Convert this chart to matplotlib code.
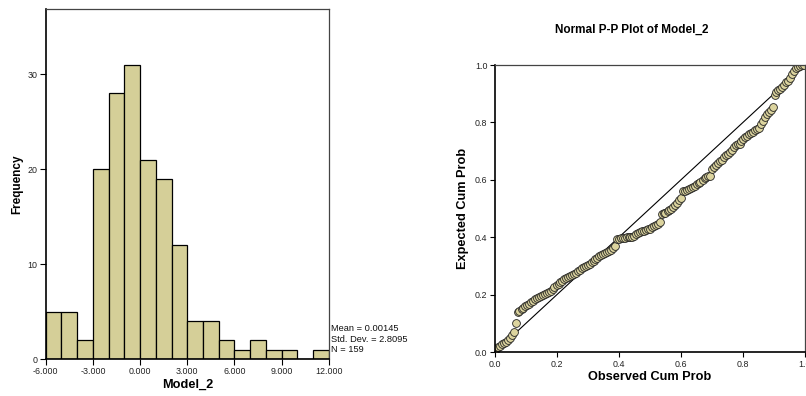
import matplotlib
matplotlib.use("Agg")
import matplotlib.pyplot as plt
from matplotlib.transforms import Bbox

plt.rcParams['font.family'] = ['Liberation Sans', 'DejaVu Sans']

# ---------------- data ----------------
bin_edges = [-6, -5, -4, -3, -2, -1, 0, 1, 2, 3, 4, 5, 6, 7, 8, 9, 10, 11, 12]
counts = [5, 5, 2, 20, 28, 31, 21, 19, 12, 4, 4, 2, 1, 2, 1, 1, 0, 1]
hist_xticks = [-6, -3, 0, 3, 6, 9, 12]
hist_xticklabels = ["-6.000", "-3.000", "0.000", "3.000", "6.000", "9.000", "12.000"]
hist_yticks = [0, 10, 20, 30]
stats_lines = ["Mean = 0.00145", "Std. Dev. = 2.80956", "N = 159"]

observed = [
    .004, .010, .016, .023, .029, .035, .042, .048, .054, .060,
    .067, .073, .079, .086, .092, .098, .104, .111, .117, .123,
    .130, .136, .142, .148, .155, .161, .167, .173, .180, .186,
    .192, .199, .205, .211, .217, .224, .230, .236, .243, .249,
    .255, .261, .268, .274, .280, .287, .293, .299, .305, .312,
    .318, .324, .330, .337, .343, .349, .356, .362, .368, .374,
    .381, .387, .393, .400, .406, .412, .418, .425, .431, .437,
    .443, .450, .456, .462, .469, .475, .481, .487, .494, .500,
    .506, .513, .519, .525, .531, .538, .544, .550, .557, .563,
    .569, .575, .582, .588, .594, .600, .607, .613, .619, .626,
    .632, .638, .644, .651, .657, .663, .670, .676, .682, .688,
    .695, .701, .707, .713, .720, .726, .732, .739, .745, .751,
    .757, .764, .770, .776, .783, .789, .795, .801, .808, .814,
    .820, .827, .833, .839, .845, .852, .858, .864, .870, .877,
    .883, .889, .896, .902, .908, .914, .921, .927, .933, .940,
    .946, .952, .958, .965, .971, .977, .984, .990, .996,
]
expected = [
    .012, .017, .022, .027, .032, .036, .042, .050, .058, .070,
    .100, .138,
    .144, .149, .154, .159, .164, .169, .174, .179, .184, .188,
    .192, .196, .199, .202, .205, .209,
    .214, .220, .226, .232, .238, .244, .249, .253, .257, .261,
    .264, .268, .272, .277, .282, .287, .291, .295, .299, .303,
    .307, .312, .318, .323, .328, .333, .337, .340, .344, .348,
    .352, .357, .362, .368,
    .393, .395, .396, .397, .398, .399, .400, .401, .402, .405,
    .410, .414, .418, .420, .422, .425, .427, .430, .434, .438,
    .443, .446, .452,
    .480, .483, .486, .490, .494, .497, .505, .512, .520, .528, .535,
    .560, .562, .565, .568, .572, .576, .580, .584, .588, .594,
    .600, .606, .610, .612, .614,
    .638, .645, .652, .658, .664, .670, .678, .685, .690, .698,
    .705, .715, .722, .724, .726, .735, .742, .748, .753, .758,
    .762, .767, .772, .776, .780, .795, .805, .818, .828, .838,
    .845, .852,
    .895, .905, .912, .918, .925, .932, .940, .946, .955, .970,
    .978, .988, .994, .997, .999, 1.0,
]
pp_ticks = [0.0, 0.2, 0.4, 0.6, 0.8, 1.0]
pp_ticklabels = ["0.0", "0.2", "0.4", "0.6", "0.8", "1.0"]

bar_color = "#D5CF98"
marker_color = "#DCD49E"

fig = plt.figure(figsize=(8.06, 3.96), dpi=100)

# ---------------- histogram ----------------
ax1 = fig.add_axes([0.0567, 0.0934, 0.3513, 0.8836])
lefts = bin_edges[:-1]
widths = [b - a for a, b in zip(bin_edges[:-1], bin_edges[1:])]
ax1.bar(lefts, counts, width=widths, align='edge', color=bar_color,
        edgecolor='black', linewidth=0.9)
ax1.set_xlim(-6, 12)
ax1.set_ylim(0, 36.84)
ax1.set_xticks(hist_xticks)
ax1.set_xticklabels(hist_xticklabels)
ax1.set_yticks(hist_yticks)
ax1.tick_params(direction='out', length=4, width=0.8, labelsize=6.4,
                pad=2, colors='black', labelcolor='#222222')
for s in ['left', 'bottom']:
    ax1.spines[s].set_linewidth(1.2)
    ax1.spines[s].set_color('black')
for s in ['top', 'right']:
    ax1.spines[s].set_linewidth(0.9)
    ax1.spines[s].set_color('#444444')
ax1.set_xlabel("Model_2", fontsize=9.2, fontweight='bold', labelpad=2)
ax1.set_ylabel("Frequency", fontsize=8.5, fontweight='bold', labelpad=3)

clip = Bbox.from_extents(0, 0, 408, 396)
for k, line in enumerate(stats_lines):
    t = fig.text(331 / 806, 1 - (328.5 + 10.5 * k) / 396, line, fontsize=6.7,
                 ha='left', va='center', color='#111111')
    t.set_clip_box(clip)
    t.set_clip_on(True)

# ---------------- P-P plot ----------------
ax2 = fig.add_axes([0.6141, 0.1111, 0.3846, 0.7247])
ax2.plot([0, 1], [0, 1], color='black', linewidth=0.8)
ax2.plot(observed, expected, linestyle='none', marker='o', markersize=5.6,
         markerfacecolor=marker_color, markeredgecolor='#222222',
         markeredgewidth=0.6)
ax2.set_xlim(0, 1)
ax2.set_ylim(0, 1)
ax2.set_xticks(pp_ticks)
ax2.set_xticklabels(pp_ticklabels)
ax2.set_yticks(pp_ticks)
ax2.set_yticklabels(pp_ticklabels)
ax2.tick_params(direction='out', length=3.5, width=0.8, labelsize=6.4,
                pad=2, colors='black', labelcolor='#222222')
for s in ['left', 'bottom']:
    ax2.spines[s].set_linewidth(1.2)
    ax2.spines[s].set_color('black')
for s in ['top', 'right']:
    ax2.spines[s].set_linewidth(0.9)
    ax2.spines[s].set_color('#444444')
ax2.set_xlabel("Observed Cum Prob", fontsize=9.2, fontweight='bold', labelpad=2)
ax2.set_ylabel("Expected Cum Prob", fontsize=9.2, fontweight='bold', labelpad=4)
fig.text(632 / 806, 1 - 30 / 396, "Normal P-P Plot of Model_2", fontsize=8.5,
         fontweight='bold', ha='center', va='center')

fig.savefig("out.png", dpi=100)
